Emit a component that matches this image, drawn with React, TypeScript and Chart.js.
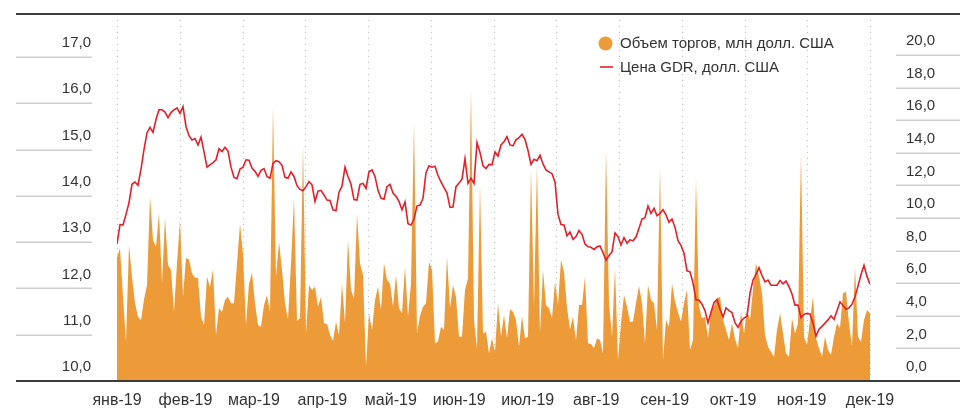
import { useEffect, useRef } from 'react';
import { Chart, registerables } from 'chart.js';

Chart.register(...registerables);

const monthLabels = ['янв-19', 'фев-19', 'мар-19', 'апр-19', 'май-19', 'июн-19', 'июл-19', 'авг-19', 'сен-19', 'окт-19', 'ноя-19', 'дек-19'];
const priceTicks = [10, 11, 12, 13, 14, 15, 16, 17];
const volumeTicks = [0, 2, 4, 6, 8, 10, 12, 14, 16, 18, 20];
const seriesNames = ['Объем торгов, млн долл. США', 'Цена GDR, долл. США'];

const price = [
  12.96, 13.38, 13.37, 13.60, 13.85, 14.25, 14.30, 14.23, 14.58, 15.00,
  15.36, 15.48, 15.37, 15.65, 15.86, 15.86, 15.81, 15.69, 15.80, 15.86,
  15.90, 15.78, 15.93, 15.50, 15.30, 15.21, 15.24, 15.10, 15.27, 14.95,
  14.62, 14.67, 14.72, 14.78, 15.02, 14.96, 15.05, 14.97, 14.62, 14.40,
  14.37, 14.58, 14.62, 14.78, 14.77, 14.60, 14.53, 14.42, 14.55, 14.59,
  14.42, 14.38, 14.70, 14.76, 14.74, 14.66, 14.40, 14.38, 14.52, 14.42,
  14.22, 14.14, 14.11, 14.20, 14.31, 14.24, 13.88, 14.10, 14.12, 14.02,
  13.91, 13.90, 13.70, 13.68, 14.08, 14.21, 14.62, 14.42, 14.25, 13.92,
  13.91, 14.25, 14.27, 14.16, 14.52, 14.56, 14.42, 14.12, 13.95, 13.93,
  14.20, 14.25, 14.06, 13.99, 13.88, 13.70, 13.87, 13.40, 13.37, 13.50,
  13.78, 13.80, 13.95, 14.50, 14.65, 14.62, 14.64, 14.44, 14.30, 14.18,
  14.06, 13.75, 13.76, 14.20, 14.28, 14.36, 14.80, 14.27, 14.38, 14.27,
  15.15, 14.94, 14.65, 14.59, 14.68, 14.67, 14.95, 14.86, 15.10, 15.17,
  15.28, 15.10, 15.08, 15.21, 15.26, 15.33, 15.22, 14.98, 14.68, 14.79,
  14.76, 14.88, 14.69, 14.56, 14.52, 14.48, 14.30, 13.60, 13.38, 13.37,
  13.14, 13.22, 13.06, 13.12, 13.25, 13.17, 12.96, 12.90, 12.89, 12.84,
  12.90, 12.92, 12.77, 12.61, 12.71, 12.79, 13.20, 13.12, 12.94, 13.10,
  12.98, 13.05, 13.03, 13.11, 13.30, 13.50, 13.53, 13.78, 13.62, 13.73,
  13.57, 13.62, 13.70, 13.59, 13.43, 13.50, 13.32, 13.03, 12.93, 12.76,
  12.38, 12.36, 12.12, 11.75, 11.75, 11.66, 11.52, 11.26, 11.48, 11.70,
  11.76, 11.55, 11.38, 11.58, 11.52, 11.48, 11.26, 11.16, 11.29, 11.36,
  11.40, 11.90, 12.18, 12.30, 12.45, 12.28, 12.14, 12.18, 12.07, 12.07,
  12.07, 12.17, 12.10, 12.16, 12.04, 11.88, 11.64, 11.64, 11.37, 11.44,
  11.46, 11.45, 11.25, 10.97, 11.12, 11.18, 11.25, 11.32, 11.41, 11.33,
  11.52, 11.71, 11.63, 11.55, 11.58, 11.66, 11.82, 12.05, 12.30, 12.50,
  12.26, 12.09,
];

const volume = [
  7.6, 8.14, 5.17, 2.41, 8.34, 6.40, 4.77, 3.95, 3.74, 5.0,
  5.89, 11.31, 8.65, 8.24, 10.29, 6.03, 9.98, 7.12, 6.81, 4.25,
  7.22, 9.88, 5.17, 7.53, 7.47, 6.61, 6.34, 6.34, 3.95, 3.44,
  6.40, 5.75, 6.85, 2.82, 4.46, 4.25, 4.97, 5.17, 4.77, 4.77,
  7.22, 9.63, 7.83, 3.44, 5.99, 6.64, 4.77, 3.44, 3.33, 4.66,
  5.28, 4.25, 16.83, 6.40, 8.55, 6.81, 4.77, 3.78, 7.22, 11.21,
  3.70, 3.85, 14.42, 2.92, 5.89, 5.58, 5.79, 4.56, 5.17, 3.54,
  3.50, 2.82, 2.47, 3.64, 2.82, 5.99, 3.54, 8.65, 5.58, 5.07,
  10.25, 7.22, 6.50, 0.88, 4.15, 3.13, 4.97, 5.79, 4.36, 7.22,
  6.20, 5.99, 4.56, 6.50, 4.46, 4.15, 7.01, 3.95, 6.0, 15.8,
  2.92, 4.0, 4.56, 4.77, 7.32, 6.81, 2.31, 2.41, 3.33, 3.13,
  7.63, 4.46, 5.89, 5.17, 2.72, 2.72, 5.58, 6.30, 17.8, 3.74,
  2.01, 12.02, 2.92, 3.02, 1.70, 2.62, 1.80, 4.77, 2.72, 4.05,
  2.62, 4.40, 4.25, 3.74, 2.10, 3.99, 2.62, 2.72, 12.94, 4.56,
  13.25, 2.92, 6.81, 4.66, 4.46, 3.85, 6.09, 4.66, 7.42, 6.71,
  4.5, 3.17, 3.95, 2.47, 4.66, 4.66, 6.40, 2.31, 2.27, 2.01,
  2.62, 2.52, 1.70, 14.17, 4.77, 2.72, 6.91, 1.29, 3.54, 5.28,
  4.56, 3.64, 3.64, 4.77, 5.83, 4.77, 2.31, 5.89, 4.97, 4.77,
  3.13, 13.15, 1.29, 3.74, 3.33, 5.99, 4.9, 4.2, 3.64, 4.77,
  5.58, 1.90, 2.52, 12.33, 4.56, 3.85, 3.95, 2.62, 4.36, 4.6,
  5.07, 5.17, 3.74, 3.13, 2.52, 3.54, 2.6, 2.01, 4.25, 2.92,
  4.36, 3.74, 5.58, 7.22, 6.40, 5.38, 2.82, 2.10, 1.80, 1.49,
  3.13, 4.15, 2.92, 1.70, 1.49, 3.85, 2.92, 3.54, 13.97, 2.72,
  2.21, 3.74, 5.17, 2.62, 2.01, 1.49, 2.72, 1.90, 1.60, 2.72,
  3.54, 3.23, 5.38, 5.48, 3.54, 2.10, 7.01, 2.72, 2.41, 3.74,
  4.36, 4.15,
];

const N = price.length;
const days = price.map((_, i) => i);

const FONT = '"Liberation Sans", Arial, sans-serif';
const ORANGE = '#EC9B38';
const RED = '#E3202A';
const TEXT = '#333333';

const fmt = (v: number) => v.toFixed(1).replace('.', ',');

const decor = {
  id: 'decor',
  beforeDatasetsDraw(chart: any) {
    const { ctx, chartArea, scales } = chart;
    const x = scales.x;
    const yL = scales.y;
    const yR = scales.y1;
    ctx.save();
    // dotted vertical gridlines
    ctx.strokeStyle = '#b8b8b8';
    ctx.lineWidth = 1;
    ctx.setLineDash([1, 5]);
    for (let k = 0; k <= 12; k++) {
      const px = Math.round(x.getPixelForValue((k * (N - 1)) / 12)) + 0.5;
      ctx.beginPath();
      ctx.moveTo(px, chartArea.top + 6);
      ctx.lineTo(px, chartArea.bottom);
      ctx.stroke();
    }
    ctx.setLineDash([]);
    // short tick lines under labels
    ctx.strokeStyle = '#cdcdcd';
    ctx.lineWidth = 1.5;
    priceTicks.slice(1).forEach((v) => {
      const py = Math.round(yL.getPixelForValue(v)) + 0.25;
      ctx.beginPath();
      ctx.moveTo(yL.left, py);
      ctx.lineTo(yL.right - 25, py);
      ctx.stroke();
    });
    volumeTicks.slice(1).forEach((v) => {
      const py = Math.round(yR.getPixelForValue(v)) + 0.25;
      ctx.beginPath();
      ctx.moveTo(yR.left + 26, py);
      ctx.lineTo(yR.right, py);
      ctx.stroke();
    });
    ctx.restore();
  },
  afterDraw(chart: any) {
    const { ctx, chartArea, scales } = chart;
    const yL = scales.y;
    const right = chart.width;
    ctx.save();
    ctx.strokeStyle = '#3c3c3c';
    ctx.lineWidth = 2;
    ctx.beginPath();
    ctx.moveTo(yL.left, chartArea.top);
    ctx.lineTo(right, chartArea.top);
    ctx.moveTo(yL.left, chartArea.bottom);
    ctx.lineTo(right, chartArea.bottom);
    ctx.stroke();

    // legend
    ctx.font = '15px ' + FONT;
    ctx.textBaseline = 'middle';
    ctx.textAlign = 'left';
    ctx.fillStyle = ORANGE;
    ctx.beginPath();
    ctx.arc(605.5, 43.5, 7, 0, Math.PI * 2);
    ctx.fill();
    ctx.fillStyle = TEXT;
    ctx.fillText(seriesNames[0], 620, 44);
    ctx.strokeStyle = RED;
    ctx.lineWidth = 1.6;
    ctx.beginPath();
    ctx.moveTo(600, 67);
    ctx.lineTo(613, 67);
    ctx.stroke();
    ctx.fillStyle = TEXT;
    ctx.fillText(seriesNames[1], 620, 67.5);
    ctx.restore();
  },
};

export default function App() {
  const ref = useRef<HTMLCanvasElement | null>(null);

  useEffect(() => {
    document.body.style.margin = '0';
    const canvas = ref.current;
    if (!canvas) return;
    const chart = new Chart(canvas, {
      type: 'line',
      data: {
        labels: days,
        datasets: [
          {
            label: seriesNames[1],
            data: price,
            yAxisID: 'y',
            borderColor: RED,
            borderWidth: 1.6,
            pointRadius: 0,
            fill: false,
            tension: 0,
            order: 1,
          },
          {
            label: seriesNames[0],
            data: volume,
            yAxisID: 'y1',
            borderColor: 'rgba(0,0,0,0)',
            borderWidth: 0,
            backgroundColor: ORANGE,
            pointRadius: 0,
            fill: 'origin',
            tension: 0,
            order: 2,
          },
        ],
      },
      options: {
        animation: false,
        responsive: true,
        maintainAspectRatio: false,
        layout: { padding: { left: 16, top: 14, right: 0, bottom: 0 } },
        plugins: {
          legend: { display: false },
          tooltip: { enabled: false },
        },
        scales: {
          x: {
            type: 'linear',
            min: 0,
            max: N - 1,
            grid: { display: false, drawTicks: true, tickLength: 10 },
            border: { display: false },
            afterBuildTicks: (s: any) => {
              s.ticks = monthLabels.map((_, k) => ({ value: (k * (N - 1)) / (monthLabels.length - 1) }));
            },
            afterFit: (s: any) => {
              s.height = 29;
            },
            ticks: {
              autoSkip: false,
              maxRotation: 0,
              padding: 0,
              color: TEXT,
              font: { family: FONT, size: 16 },
              callback: (_v: any, i: number) => monthLabels[i],
            },
          },
          y: {
            type: 'linear',
            position: 'left',
            min: 10,
            max: 17.93,
            grid: { display: false, drawTicks: true, tickLength: 26 },
            border: { display: false },
            afterBuildTicks: (s: any) => {
              s.ticks = priceTicks.map((v) => ({ value: v }));
            },
            afterFit: (s: any) => {
              s.width = 101;
            },
            ticks: {
              padding: 0,
              labelOffset: -14,
              color: TEXT,
              font: { family: FONT, size: 15 },
              callback: (v: any) => fmt(Number(v)),
            },
          },
          y1: {
            type: 'linear',
            position: 'right',
            min: 0,
            max: 22.52,
            grid: { display: false, drawTicks: true, tickLength: 36 },
            border: { display: false },
            afterBuildTicks: (s: any) => {
              s.ticks = volumeTicks.map((v) => ({ value: v }));
            },
            afterFit: (s: any) => {
              s.width = 90;
            },
            ticks: {
              padding: 0,
              labelOffset: -14,
              color: TEXT,
              font: { family: FONT, size: 15 },
              callback: (v: any) => fmt(Number(v)),
            },
          },
        },
      },
      plugins: [decor],
    });
    return () => chart.destroy();
  }, []);

  return (
    <div style={{ width: 960, height: 410, position: 'relative' }}>
      <canvas ref={ref} />
    </div>
  );
}
